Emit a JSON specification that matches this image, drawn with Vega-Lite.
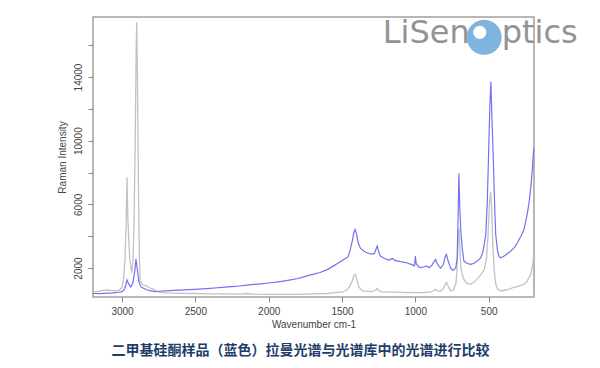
{
  "$schema": "https://vega.github.io/schema/vega-lite/v6.json",
  "width": 441,
  "height": 280,
  "autosize": {"type": "none"},
  "padding": {"left": 93, "top": 17, "right": 66, "bottom": 71},
  "background": "white",
  "config": {
    "view": {"stroke": "#a0a0a0", "strokeWidth": 1.5},
    "font": "Liberation Sans"
  },
  "title": {
    "text": "二甲基硅酮样品（蓝色）拉曼光谱与光谱库中的光谱进行比较",
    "orient": "bottom",
    "anchor": "middle",
    "dx": -13,
    "offset": 15,
    "font": "Noto Sans CJK SC",
    "fontSize": 14,
    "fontWeight": "bold",
    "color": "#1f3d6b"
  },
  "datasets": {
    "blue": [
      {"w": 3198, "I": 400}, {"w": 3150, "I": 390}, {"w": 3100, "I": 420}, {"w": 3060, "I": 440},
      {"w": 3020, "I": 480}, {"w": 3000, "I": 520}, {"w": 2985, "I": 640}, {"w": 2975, "I": 900},
      {"w": 2966, "I": 1250}, {"w": 2955, "I": 1000}, {"w": 2940, "I": 810}, {"w": 2925, "I": 1100},
      {"w": 2912, "I": 1900}, {"w": 2905, "I": 2560}, {"w": 2897, "I": 2000}, {"w": 2885, "I": 1100},
      {"w": 2870, "I": 800}, {"w": 2857, "I": 750}, {"w": 2830, "I": 620}, {"w": 2800, "I": 560},
      {"w": 2775, "I": 520}, {"w": 2750, "I": 540}, {"w": 2700, "I": 560}, {"w": 2650, "I": 590},
      {"w": 2600, "I": 610}, {"w": 2550, "I": 640}, {"w": 2500, "I": 660}, {"w": 2450, "I": 690},
      {"w": 2400, "I": 720}, {"w": 2350, "I": 760}, {"w": 2300, "I": 800}, {"w": 2250, "I": 830},
      {"w": 2200, "I": 870}, {"w": 2150, "I": 920}, {"w": 2100, "I": 970}, {"w": 2050, "I": 1010},
      {"w": 2000, "I": 1060}, {"w": 1950, "I": 1110}, {"w": 1900, "I": 1180}, {"w": 1850, "I": 1260},
      {"w": 1800, "I": 1340}, {"w": 1750, "I": 1480}, {"w": 1700, "I": 1600}, {"w": 1650, "I": 1720},
      {"w": 1600, "I": 1900}, {"w": 1560, "I": 2120}, {"w": 1520, "I": 2350}, {"w": 1480, "I": 2580},
      {"w": 1460, "I": 2700}, {"w": 1445, "I": 3100}, {"w": 1430, "I": 3700}, {"w": 1418, "I": 4300},
      {"w": 1410, "I": 4420}, {"w": 1400, "I": 4100}, {"w": 1390, "I": 3600}, {"w": 1375, "I": 3250},
      {"w": 1350, "I": 3050}, {"w": 1330, "I": 2960}, {"w": 1300, "I": 2880}, {"w": 1280, "I": 2900},
      {"w": 1268, "I": 3200}, {"w": 1260, "I": 3380}, {"w": 1250, "I": 3000}, {"w": 1238, "I": 2750},
      {"w": 1210, "I": 2600}, {"w": 1180, "I": 2500}, {"w": 1165, "I": 2560}, {"w": 1155, "I": 2600},
      {"w": 1140, "I": 2480}, {"w": 1100, "I": 2400}, {"w": 1060, "I": 2330}, {"w": 1020, "I": 2200},
      {"w": 1005, "I": 2150}, {"w": 1000, "I": 2750}, {"w": 995, "I": 2300}, {"w": 980, "I": 2100},
      {"w": 965, "I": 2030}, {"w": 940, "I": 2080}, {"w": 925, "I": 2130}, {"w": 905, "I": 2020},
      {"w": 885, "I": 2200}, {"w": 870, "I": 2450}, {"w": 862, "I": 2540}, {"w": 850, "I": 2250},
      {"w": 828, "I": 2000}, {"w": 810, "I": 2200}, {"w": 795, "I": 2750}, {"w": 788, "I": 2850},
      {"w": 778, "I": 2500}, {"w": 760, "I": 2000}, {"w": 745, "I": 1850}, {"w": 725, "I": 2000},
      {"w": 715, "I": 2600}, {"w": 708, "I": 5500}, {"w": 703, "I": 7950}, {"w": 698, "I": 6000},
      {"w": 690, "I": 4300}, {"w": 680, "I": 3200}, {"w": 669, "I": 2440}, {"w": 650, "I": 2300},
      {"w": 623, "I": 2230}, {"w": 600, "I": 2300}, {"w": 575, "I": 2450}, {"w": 555, "I": 2640},
      {"w": 540, "I": 3000}, {"w": 530, "I": 3500}, {"w": 520, "I": 4100}, {"w": 510, "I": 6000},
      {"w": 502, "I": 8700}, {"w": 492, "I": 12200}, {"w": 485, "I": 13700}, {"w": 478, "I": 11500},
      {"w": 468, "I": 8700}, {"w": 458, "I": 5500}, {"w": 452, "I": 4100}, {"w": 440, "I": 3100},
      {"w": 430, "I": 2750}, {"w": 418, "I": 2640}, {"w": 400, "I": 2720}, {"w": 380, "I": 2850},
      {"w": 350, "I": 3060}, {"w": 320, "I": 3350}, {"w": 300, "I": 3650}, {"w": 293, "I": 3790},
      {"w": 280, "I": 4000}, {"w": 260, "I": 4400}, {"w": 247, "I": 4940}, {"w": 235, "I": 5500},
      {"w": 225, "I": 6100}, {"w": 213, "I": 7020}, {"w": 205, "I": 7900}, {"w": 198, "I": 8800},
      {"w": 193, "I": 9500}
    ],
    "gray": [
      {"w": 3198, "I": 500}, {"w": 3170, "I": 520}, {"w": 3130, "I": 600}, {"w": 3100, "I": 620},
      {"w": 3080, "I": 600}, {"w": 3050, "I": 560}, {"w": 3020, "I": 600}, {"w": 3000, "I": 800},
      {"w": 2990, "I": 1300}, {"w": 2980, "I": 2500}, {"w": 2972, "I": 4800}, {"w": 2966, "I": 7700},
      {"w": 2960, "I": 5000}, {"w": 2948, "I": 2600}, {"w": 2934, "I": 1710}, {"w": 2925, "I": 2500},
      {"w": 2918, "I": 5000}, {"w": 2910, "I": 10000}, {"w": 2904, "I": 15500}, {"w": 2900, "I": 17440},
      {"w": 2895, "I": 14000}, {"w": 2888, "I": 7000}, {"w": 2882, "I": 2800}, {"w": 2877, "I": 1190},
      {"w": 2860, "I": 950}, {"w": 2840, "I": 880}, {"w": 2831, "I": 875}, {"w": 2815, "I": 760},
      {"w": 2786, "I": 670}, {"w": 2770, "I": 560}, {"w": 2750, "I": 480}, {"w": 2700, "I": 440},
      {"w": 2600, "I": 410}, {"w": 2500, "I": 400}, {"w": 2400, "I": 380}, {"w": 2300, "I": 380},
      {"w": 2200, "I": 360}, {"w": 2150, "I": 400}, {"w": 2100, "I": 360}, {"w": 2000, "I": 350},
      {"w": 1900, "I": 340}, {"w": 1800, "I": 350}, {"w": 1700, "I": 380}, {"w": 1600, "I": 400},
      {"w": 1550, "I": 450}, {"w": 1500, "I": 480}, {"w": 1470, "I": 600}, {"w": 1450, "I": 800},
      {"w": 1430, "I": 1200}, {"w": 1418, "I": 1550}, {"w": 1410, "I": 1600}, {"w": 1400, "I": 1300},
      {"w": 1385, "I": 800}, {"w": 1360, "I": 560}, {"w": 1300, "I": 520}, {"w": 1270, "I": 620},
      {"w": 1260, "I": 730}, {"w": 1250, "I": 600}, {"w": 1230, "I": 500}, {"w": 1150, "I": 480},
      {"w": 1050, "I": 460}, {"w": 1000, "I": 470}, {"w": 950, "I": 460}, {"w": 900, "I": 480},
      {"w": 870, "I": 600}, {"w": 862, "I": 670}, {"w": 850, "I": 560}, {"w": 830, "I": 540},
      {"w": 810, "I": 700}, {"w": 795, "I": 1000}, {"w": 787, "I": 1090}, {"w": 778, "I": 900},
      {"w": 760, "I": 560}, {"w": 740, "I": 600}, {"w": 722, "I": 1100}, {"w": 712, "I": 2800},
      {"w": 706, "I": 4300}, {"w": 703, "I": 4500}, {"w": 698, "I": 3500}, {"w": 690, "I": 2000},
      {"w": 680, "I": 1600}, {"w": 669, "I": 1300}, {"w": 650, "I": 1050}, {"w": 623, "I": 980},
      {"w": 600, "I": 1100}, {"w": 570, "I": 1400}, {"w": 545, "I": 1700}, {"w": 530, "I": 1900},
      {"w": 515, "I": 2600}, {"w": 505, "I": 4000}, {"w": 495, "I": 6000}, {"w": 487, "I": 6800},
      {"w": 480, "I": 5800}, {"w": 472, "I": 3500}, {"w": 462, "I": 1800}, {"w": 452, "I": 1000},
      {"w": 440, "I": 700}, {"w": 418, "I": 560}, {"w": 380, "I": 620}, {"w": 329, "I": 790},
      {"w": 300, "I": 850}, {"w": 261, "I": 980}, {"w": 240, "I": 1150}, {"w": 213, "I": 1600},
      {"w": 200, "I": 2200}, {"w": 193, "I": 2850}
    ],
    "logoLeft": [{"w": 629, "I": 16114, "t": "LiSen"}],
    "logoRight": [{"w": 411, "I": 16114, "t": "ptics"}],
    "logoDisc": [
      {"w": 531, "I": 16491, "part": "outer"},
      {"w": 561, "I": 16805, "part": "inner"}
    ]
  },
  "encoding": {
    "x": {
      "field": "w", "type": "quantitative",
      "scale": {"domain": [191, 3198], "reverse": true, "nice": false, "zero": false},
      "axis": {
        "title": "Wavenumber cm-1", "values": [500, 1000, 1500, 2000, 2500, 3000], "format": "d",
        "domain": false, "grid": false, "tickColor": "#888888", "tickSize": 5,
        "labelFontSize": 10, "labelColor": "#444444", "labelPadding": 4,
        "titleFontSize": 10, "titleFontWeight": "normal", "titleColor": "#444444", "titlePadding": 3
      }
    },
    "y": {
      "field": "I", "type": "quantitative",
      "scale": {"domain": [180, 17770], "nice": false, "zero": false},
      "axis": {
        "title": "Raman Intensity",
        "values": [2000, 4000, 6000, 8000, 10000, 12000, 14000, 16000],
        "labelExpr": "(datum.value == 2000 || datum.value == 6000 || datum.value == 10000 || datum.value == 14000) ? format(datum.value, 'd') : ''",
        "domain": false, "grid": false, "tickColor": "#888888", "tickSize": 5,
        "labelAngle": -90, "labelAlign": "center", "labelBaseline": "bottom",
        "labelFontSize": 10, "labelColor": "#444444", "labelPadding": 5,
        "titleFontSize": 10, "titleFontWeight": "normal", "titleColor": "#444444", "titlePadding": 6
      }
    }
  },
  "layer": [
    {
      "data": {"name": "gray"},
      "mark": {"type": "line", "color": "#c2c2c2", "strokeWidth": 1.3},
      "encoding": {"order": {"field": "w", "type": "quantitative"}}
    },
    {
      "data": {"name": "blue"},
      "mark": {"type": "line", "color": "#7272f2", "strokeWidth": 1.2},
      "encoding": {"order": {"field": "w", "type": "quantitative"}}
    },
    {
      "data": {"name": "logoLeft"},
      "mark": {"type": "text", "font": "DejaVu Sans", "fontSize": 32, "fontWeight": "normal", "color": "#939393", "baseline": "alphabetic", "align": "right"},
      "encoding": {"text": {"field": "t"}}
    },
    {
      "data": {"name": "logoRight"},
      "mark": {"type": "text", "font": "DejaVu Sans", "fontSize": 32, "fontWeight": "normal", "color": "#939393", "baseline": "alphabetic", "align": "left"},
      "encoding": {"text": {"field": "t"}}
    },
    {
      "data": {"name": "logoDisc"},
      "mark": {"type": "point", "filled": true, "opacity": 1, "strokeWidth": 0},
      "encoding": {
        "size": {"field": "part", "type": "nominal", "scale": {"domain": ["outer", "inner"], "range": [1225, 170]}, "legend": null},
        "color": {"field": "part", "type": "nominal", "scale": {"domain": ["outer", "inner"], "range": ["#80b3de", "#ffffff"]}, "legend": null}
      }
    }
  ]
}
